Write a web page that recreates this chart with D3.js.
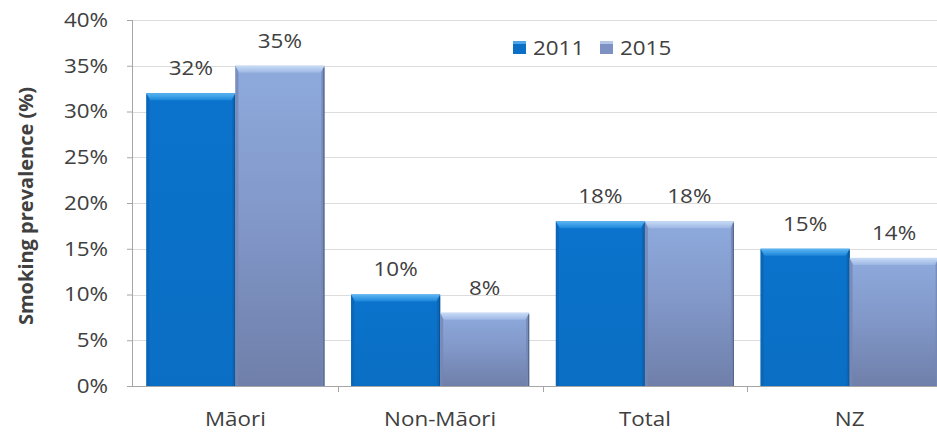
<!DOCTYPE html>
<html>
<head>
<meta charset="utf-8">
<script src="https://cdn.jsdelivr.net/npm/d3@7"></script>
<style>
  html, body { margin: 0; padding: 0; background: #fff; }
  svg { display: block; }
  text { font-family: "Open Sans", "DejaVu Sans", sans-serif; fill: #404040; }
  /* slightly widened lettering */
  .wide { transform-box: fill-box; transform-origin: center; transform: scaleX(1.12); }
  .wide-r { transform-box: fill-box; transform-origin: right center; transform: scaleX(1.12); }
  .wide-l { transform-box: fill-box; transform-origin: left center; transform: scaleX(1.12); }
</style>
</head>
<body>
<svg id="chart" width="937" height="432"></svg>
<script>
// Smoking prevalence by group, 2011 vs 2015
const categories = ["Māori", "Non-Māori", "Total", "NZ"];
const seriesNames = ["2011", "2015"];
const values2011 = [32, 10, 18, 15];
const values2015 = [35, 8, 18, 14];
const yTicks = [0, 5, 10, 15, 20, 25, 30, 35, 40];
const yTitle = "Smoking prevalence (%)";

const seriesValues = { "2011": values2011, "2015": values2015 };
const rows = categories.map((c, i) => ({
  category: c,
  bars: seriesNames.map(s => ({ series: s, value: seriesValues[s][i] }))
}));

const svg = d3.select("#chart");
const W = 937, H = 432;
const plotLeft = 133, plotRight = 952, plotTop = 20, plotBottom = 386;

const x = d3.scaleBand().domain(categories).range([plotLeft, plotRight]).padding(0);
const xs = d3.scaleBand().domain(seriesNames).range([0, x.bandwidth()]).paddingInner(0).paddingOuter(0.15);
const y = d3.scaleLinear().domain([0, 40]).range([plotBottom, plotTop]);

// gradients
const defs = svg.append("defs");
function vgrad(id, stops) {
  const g = defs.append("linearGradient").attr("id", id)
    .attr("x1", 0).attr("y1", 0).attr("x2", 0).attr("y2", 1);
  stops.forEach(([o, c]) => g.append("stop").attr("offset", o).attr("stop-color", c));
}
vgrad("body2011", [[0, "#0b73cc"], [1, "#0a6fc4"]]);
vgrad("body2015", [[0, "#8eaadd"], [0.5, "#8197c8"], [1, "#6f7fa9"]]);
vgrad("bevel2011", [[0, "#5cb6f2"], [1, "#1c86da"]]);
vgrad("bevel2015", [[0, "#c8dcf6"], [1, "#9db6e3"]]);

const style = {
  "2011": { body: "url(#body2011)", bevel: "url(#bevel2011)", side: "#0a64b3", edge: "#104f8c" },
  "2015": { body: "url(#body2015)", bevel: "url(#bevel2015)", side: "#7487b4", edge: "#4f5f85" }
};

// gridlines
svg.append("g").selectAll("line").data(yTicks.filter(t => t > 0)).join("line")
  .attr("x1", plotLeft).attr("x2", W)
  .attr("y1", d => Math.round(y(d)) + 0.5).attr("y2", d => Math.round(y(d)) + 0.5)
  .attr("stroke", "#dcdcdc").attr("stroke-width", 1);

// bars
const groups = svg.append("g").selectAll("g").data(rows).join("g")
  .attr("transform", d => `translate(${x(d.category)},0)`);

const bar = groups.selectAll("g").data(d => d.bars).join("g");
const bev = 7;

bar.append("rect")
  .attr("x", d => xs(d.series)).attr("width", xs.bandwidth())
  .attr("y", d => y(d.value)).attr("height", d => y(0) - y(d.value))
  .attr("fill", d => style[d.series].body);

// side bevels
bar.append("path")
  .attr("d", d => {
    const x0 = xs(d.series), x1 = x0 + xs.bandwidth(), yt = y(d.value), yb = y(0);
    return `M${x0},${yt}L${x0 + 3},${yt + bev}L${x0 + 3},${yb}L${x0},${yb}Z` +
           `M${x1},${yt}L${x1 - 3},${yt + bev}L${x1 - 3},${yb}L${x1},${yb}Z`;
  })
  .attr("fill", d => style[d.series].side).attr("opacity", 0.8);

// top bevel
bar.append("path")
  .attr("d", d => {
    const x0 = xs(d.series), x1 = x0 + xs.bandwidth(), yt = y(d.value);
    return `M${x0},${yt}L${x1},${yt}L${x1 - 4},${yt + bev}L${x0 + 4},${yt + bev}Z`;
  })
  .attr("fill", d => style[d.series].bevel);

// dark right edge
bar.append("line")
  .attr("x1", d => xs(d.series) + xs.bandwidth() - 0.5).attr("x2", d => xs(d.series) + xs.bandwidth() - 0.5)
  .attr("y1", d => y(d.value) + 2).attr("y2", y(0))
  .attr("stroke", d => style[d.series].edge).attr("stroke-width", 1.2).attr("opacity", 0.8);

// value labels
const fmt = d3.format(".0f");
bar.append("text")
  .attr("class", "wide")
  .attr("x", d => xs(d.series) + xs.bandwidth() / 2)
  .attr("y", d => y(d.value) - 18)
  .attr("text-anchor", "middle")
  .style("font-size", "20px")
  .text(d => fmt(d.value) + "%");

// y axis
const yAxis = svg.append("g").attr("transform", `translate(${plotLeft},0)`)
  .call(d3.axisLeft(y).tickValues(yTicks).tickFormat(d => d + "%").tickSize(6).tickPadding(19));
yAxis.select(".domain").attr("stroke", "#a6a6a6").attr("d", `M-0.5,${plotTop}V${plotBottom}`);
yAxis.selectAll(".tick line").attr("stroke", "#a6a6a6");
yAxis.selectAll("text").attr("class", "wide-r").style("font-size", "20px").attr("fill", "#404040");

// x axis
const xAxis = svg.append("g").attr("transform", `translate(0,${plotBottom})`)
  .call(d3.axisBottom(x).tickSize(0).tickPadding(26));
xAxis.select(".domain").attr("stroke", "#a6a6a6").attr("d", `M${plotLeft},0.5H${W}`);
xAxis.selectAll("text").attr("class", "wide").style("font-size", "20px").attr("fill", "#404040");
svg.append("g").selectAll("line").data(categories.slice(1)).join("line")
  .attr("x1", d => Math.round(x(d)) + 0.5).attr("x2", d => Math.round(x(d)) + 0.5)
  .attr("y1", plotBottom).attr("y2", plotBottom + 6)
  .attr("stroke", "#a6a6a6");

// y title
svg.append("text")
  .attr("transform", `translate(33,206) rotate(-90)`)
  .attr("text-anchor", "middle")
  .style("font-size", "20px").style("font-weight", "bold")
  .attr("fill", "#262626")
  .text(yTitle);

// legend
const legend = svg.append("g").attr("transform", "translate(513,41)");
const li = legend.selectAll("g").data(seriesNames).join("g")
  .attr("transform", (d, i) => `translate(${i * 87},0)`);
li.append("rect").attr("width", 13).attr("height", 13)
  .attr("fill", d => d === "2011" ? "#0b6fc6" : "#7d92c2");
li.append("rect").attr("width", 13).attr("height", 3)
  .attr("fill", d => d === "2011" ? "#4aa6ea" : "#b5c7e8");
li.append("text").attr("class", "wide-l").attr("x", 20).attr("y", 14)
  .style("font-size", "20px").attr("fill", "#404040")
  .text(d => d);
</script>
</body>
</html>
